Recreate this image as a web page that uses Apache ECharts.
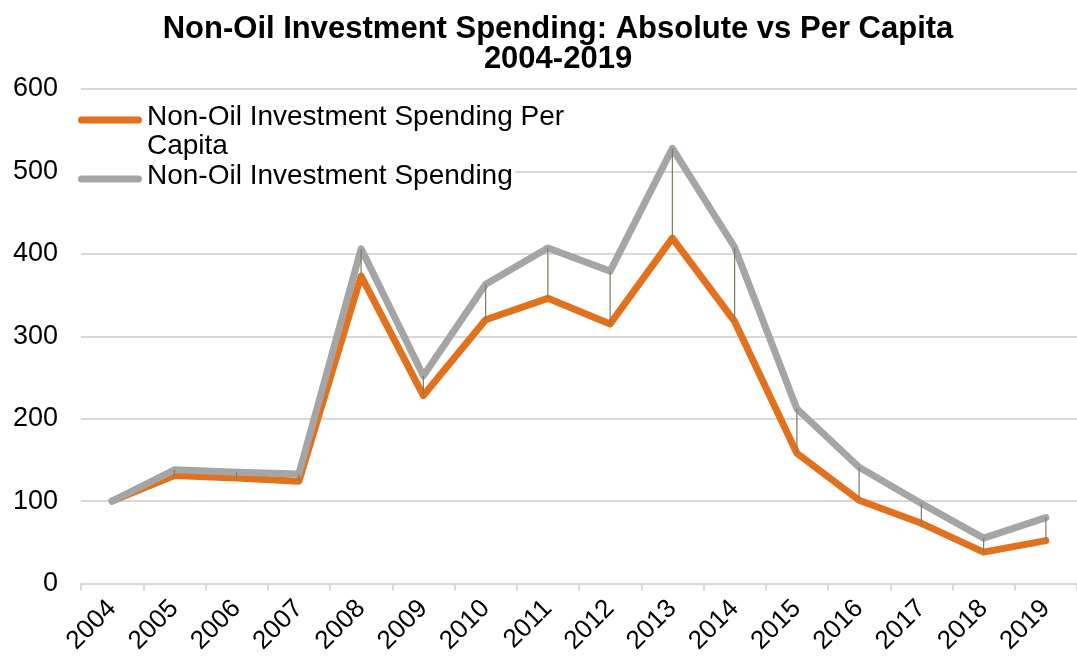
<!DOCTYPE html>
<html>
<head>
<meta charset="utf-8">
<script src="https://cdn.jsdelivr.net/npm/echarts@6/dist/echarts.min.js"></script>
<style>
  html, body { margin: 0; padding: 0; background: #fff; }
  #chart { width: 1077px; height: 659px; }
</style>
</head>
<body>
<div id="chart"></div>
<script>
// Index values, 2004 = 100
const years = ['2004', '2005', '2006', '2007', '2008', '2009', '2010', '2011',
               '2012', '2013', '2014', '2015', '2016', '2017', '2018', '2019'];
const perCapitaSpending = [100, 131, 128, 124, 373, 228, 320, 346, 315, 419, 318, 158, 101, 73, 38, 52];
const absoluteSpending  = [100, 138, 135, 133, 406, 252, 363, 407, 379, 528, 408, 212, 141, 97, 55, 80];
const yTicks = [0, 100, 200, 300, 400, 500, 600];

const perCapitaName = 'Non-Oil Investment Spending Per Capita';
const absoluteName = 'Non-Oil Investment Spending';
const orange = '#E2711D';
const grey = '#A5A5A5';
const fontFamily = '"Liberation Sans", Arial, Helvetica, sans-serif';

const chart = echarts.init(document.getElementById('chart'), null, { renderer: 'canvas' });

// high-low connector between the two series at each year
const hiLoData = years.map((y, i) => [i, absoluteSpending[i], perCapitaSpending[i]]);

chart.setOption({
  animation: false,
  backgroundColor: '#fff',
  textStyle: { fontFamily },
  title: {
    text: 'Non-Oil Investment Spending: Absolute vs Per Capita\n2004-2019',
    left: 553,
    top: 9,
    textAlign: 'center',
    textStyle: { fontFamily, fontSize: 31, fontWeight: 'bold', color: '#000', lineHeight: 30 }
  },
  grid: { left: 81, right: -4, top: 89, bottom: 75.5, containLabel: false },
  xAxis: {
    type: 'category',
    data: years,
    boundaryGap: true,
    axisLine: { show: true, lineStyle: { color: '#D9D9D9', width: 2 } },
    axisTick: { show: true, length: 7, lineStyle: { color: '#D9D9D9', width: 2 } },
    axisLabel: {
      rotate: 45, margin: 21, interval: 0,
      fontFamily, fontSize: 26, color: '#000'
    },
    splitLine: { show: false }
  },
  yAxis: {
    type: 'value',
    min: yTicks[0],
    max: yTicks[yTicks.length - 1],
    interval: 100,
    axisLine: { show: false },
    axisTick: { show: false },
    axisLabel: { margin: 23, fontFamily, fontSize: 27, color: '#000' },
    splitLine: { lineStyle: { color: '#D9D9D9', width: 2 } }
  },
  series: [
    {
      name: perCapitaName,
      type: 'line',
      data: perCapitaSpending,
      symbol: 'none',
      lineStyle: { color: orange, width: 7, cap: 'round', join: 'round' },
      z: 3
    },
    {
      name: absoluteName,
      type: 'line',
      data: absoluteSpending,
      symbol: 'none',
      lineStyle: { color: grey, width: 7, cap: 'round', join: 'round' },
      z: 4
    },
    {
      name: 'hi-lo',
      type: 'custom',
      data: hiLoData,
      encode: { x: 0, y: [1, 2] },
      z: 5,
      renderItem: function (params, api) {
        const top = api.coord([api.value(0), api.value(1)]);
        const bottom = api.coord([api.value(0), api.value(2)]);
        return {
          type: 'line',
          shape: { x1: top[0], y1: top[1], x2: bottom[0], y2: bottom[1] },
          style: { stroke: '#7C7C5E', lineWidth: 1.2 }
        };
      }
    }
  ],
  graphic: [
    // legend box
    { type: 'rect', left: 76, top: 99, z: 10, shape: { width: 439, height: 96 }, style: { fill: '#fff' } },
    { type: 'rect', left: 78, top: 116.5, z: 11, shape: { width: 64, height: 7, r: 3.5 }, style: { fill: orange } },
    {
      type: 'text', left: 147, top: 103, z: 11,
      style: { text: 'Non-Oil Investment Spending Per\nCapita', font: '28px ' + fontFamily, fill: '#000', lineHeight: 29 }
    },
    { type: 'rect', left: 78, top: 175.5, z: 11, shape: { width: 64, height: 7, r: 3.5 }, style: { fill: grey } },
    {
      type: 'text', left: 147, top: 162, z: 11,
      style: { text: 'Non-Oil Investment Spending', font: '28px ' + fontFamily, fill: '#000', lineHeight: 29 }
    }
  ]
});
</script>
</body>
</html>
